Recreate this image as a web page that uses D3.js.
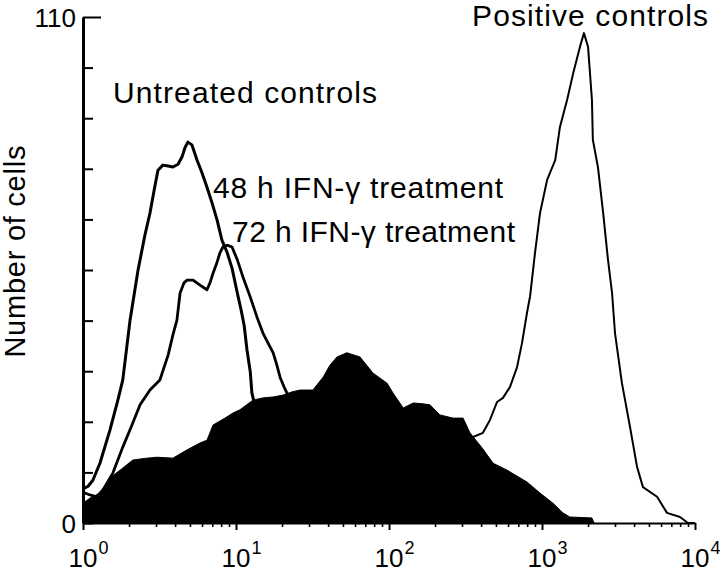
<!DOCTYPE html>
<html><head><meta charset="utf-8">
<script src="https://cdn.jsdelivr.net/npm/d3@7/dist/d3.min.js"></script>
<style>
body{margin:0;background:#fff}
svg{display:block;background:#fff}
text{font-family:"Liberation Sans",Arial,Helvetica,sans-serif;fill:#000}
</style>
</head><body>
<svg id="chart" width="720" height="585"></svg>
<script>
// ---- data (fluorescence intensity, number of cells) ----
const untreatedX = [1.00,1.08,1.16,1.29,1.50,1.69,1.82,2.03,2.29,2.54,2.74,2.96,3.09,3.33,3.60,3.87,4.18,4.44,4.65,4.85,5.15,5.56,6.00,6.46,6.97,7.52,8.09,8.73,9.42,10.2,10.8,11.3,11.8,12.4,12.7,13.5,15.5,19.4,26.2,41.1,64.6];
const untreatedY = [7.4,8.0,9.3,13.0,20.2,26.7,31.1,44.1,55.0,62.6,67.4,73.5,76.7,77.8,77.6,77.4,78.0,79.6,81.7,82.8,82.2,78.9,76.1,73.0,69.6,65.9,61.5,58.9,55.4,50.0,46.3,43.0,37.6,32.8,28.3,24.6,18.0,11.5,6.1,1.7,0];

const ifn48X = [1.00,1.11,1.23,1.35,1.57,1.82,2.09,2.36,2.74,3.18,3.60,3.87,4.11,4.31,4.57,4.79,5.24,5.82,6.46,6.76,7.08,7.52,7.85,8.22,8.73,9.42,10.2,11.1,12.4,13.7,15.0,16.2,17.5,18.5,19.4,20.6,21.5,23.2,26.2,35.4,55.6,87.3];
const ifn48Y = [6.7,6.1,5.7,7.2,10.9,16.5,21.3,25.7,28.9,31.1,36.5,40.9,44.1,50.0,52.2,52.8,52.8,51.7,50.7,52.2,54.3,56.7,58.7,60.0,60.4,60.0,57.2,53.5,49.1,44.8,41.3,39.1,37.0,34.3,31.7,29.6,28.3,25.7,20.2,11.5,3.9,0];

const ifn72X = [1.00,1.11,1.29,1.50,1.75,2.12,2.62,3.05,3.87,4.79,5.82,6.46,7.08,8.47,9.55,10.6,12.9,15.0,17.5,20.3,23.2,26.2,31.8,37.1,41.1,45.7,53.1,64.6,78.5,97.1,106,124,144,167,185,215,262,305,338,411,479,590,798,971,1180,1370,1520,2120,2190];
const ifn72Y = [4.3,5.4,6.5,9.8,11.5,13.7,14.1,14.3,14.1,15.9,17.4,18.0,21.3,22.8,23.9,24.6,26.7,27.2,27.4,27.8,28.5,28.9,28.9,31.7,34.3,36.1,37.0,36.1,32.6,30.4,28.3,25.0,26.1,25.9,25.7,23.5,22.8,22.8,19.6,16.1,13.0,11.5,8.9,6.5,4.3,2.2,1.3,1.1,0];

const positiveX = [87.3,160,251,354,411,457,508,556,618,687,740,798,836,900,971,1080,1220,1310,1460,1600,1770,1880,2000,2120,2150,2320,2510,2700,2870,3000,3330,3760,4180,4570,5650,6560,7980,9000,10000];
const positiveY = [0,3.9,11.5,18.7,19.6,22.4,26.3,27.2,29.6,33.9,39.1,45.7,49.3,58.7,67.4,74.6,78.9,86.1,92.0,97.8,103.5,106.5,103.5,92.0,83.3,77.4,67.4,57.2,50.0,41.3,30.4,20.9,12.2,7.8,5.7,2.2,1.3,0,0];

const xMajorTicks = [1,10,100,1000,10000];
const xTickExponents = ["0","1","2","3","4"];
const yTickValues = [0,11,22,33,44,55,66,77,88,99,110];
const yTickLabels = ["0","","","","","","","","","","110"];
const yAxisTitle = "Number of cells";
const seriesLabels = ["Untreated controls","48 h IFN-\u03b3 treatment","72 h IFN-\u03b3 treatment","Positive controls"];

// ---- drawing ----
const svg = d3.select("#chart");
const x = d3.scaleLog().domain([1,10000]).range([83,695]);
const y = d3.scaleLinear().domain([0,110]).range([523,17]);

const zip = (xs, ys) => xs.map((v,i)=>[v, ys[i]]);
const line = d3.line().x(d=>x(d[0])).y(d=>y(d[1]));
const area = d3.area().x(d=>x(d[0])).y0(y(0)).y1(d=>y(d[1]));

// outlines first (hidden where the filled histogram covers them)
svg.append("path").datum(zip(positiveX,positiveY)).attr("d",line)
  .attr("fill","none").attr("stroke","#000").attr("stroke-width",2).attr("stroke-linejoin","round");
svg.append("path").datum(zip(ifn48X,ifn48Y)).attr("d",line)
  .attr("fill","none").attr("stroke","#000").attr("stroke-width",2.8).attr("stroke-linejoin","round");
svg.append("path").datum(zip(untreatedX,untreatedY)).attr("d",line)
  .attr("fill","none").attr("stroke","#000").attr("stroke-width",3).attr("stroke-linejoin","round");
svg.append("path").datum(zip(ifn72X,ifn72Y)).attr("d",area)
  .attr("fill","#000").attr("stroke","#000").attr("stroke-width",1);

// x axis
const minorTicks = [];
for (let k=0;k<4;k++) for (let m=2;m<10;m++) minorTicks.push(m*Math.pow(10,k));
const gx = svg.append("g").attr("transform",`translate(0,${y(0)})`)
  .call(d3.axisBottom(x).tickValues(xMajorTicks).tickSize(7).tickSizeOuter(0).tickFormat(""));
gx.select(".domain").attr("stroke-width",2);
gx.selectAll(".tick line").attr("stroke-width",2);
const gxm = svg.append("g").attr("transform",`translate(0,${y(0)})`)
  .call(d3.axisBottom(x).tickValues(minorTicks).tickSize(4).tickSizeOuter(0).tickFormat(""));
gxm.select(".domain").remove();
gxm.selectAll(".tick line").attr("stroke-width",1.6);

xMajorTicks.forEach((v,i)=>{
  const t = svg.append("text").attr("y",567).attr("font-size",26);
  const base = t.append("tspan").text("10");
  const w = base.node().getComputedTextLength();
  t.attr("x", x(v) - w/2);
  t.append("tspan").attr("dy",-13).attr("dx",1).attr("font-size",18).text(xTickExponents[i]);
});

// y axis
const gy = svg.append("g").attr("transform",`translate(${x(1)},0)`)
  .call(d3.axisLeft(y).tickValues(yTickValues).tickSizeInner(-10).tickSizeOuter(0).tickPadding(7)
    .tickFormat((d,i)=>yTickLabels[i]));
gy.select(".domain").attr("stroke-width",3);
gy.selectAll(".tick line").attr("stroke-width",2);
gy.selectAll(".tick").filter(d=>d===110).select("line").attr("x2",18);
gy.selectAll(".tick text").attr("font-size",26).attr("dy","0.36em");
gy.attr("font-family",null);
gx.attr("font-family",null); gxm.attr("font-family",null);

// axis title
svg.append("text").attr("transform",`translate(25,${y(59)}) rotate(-90)`)
  .attr("text-anchor","middle").attr("font-size",29).attr("textLength",212).text(yAxisTitle);

// series labels
const labelSpec = [
  {i:0, xv:1.57, yv:91.3, len:264},
  {i:1, xv:7.08, yv:70.7, len:290},
  {i:2, xv:9.42, yv:61.1, len:283},
  {i:3, xv:349,  yv:108,  len:236}
];
labelSpec.forEach(s=>{
  svg.append("text").attr("x",x(s.xv)).attr("y",y(s.yv)).attr("font-size",30)
    .attr("textLength",s.len).text(seriesLabels[s.i]);
});
</script>
</body></html>
